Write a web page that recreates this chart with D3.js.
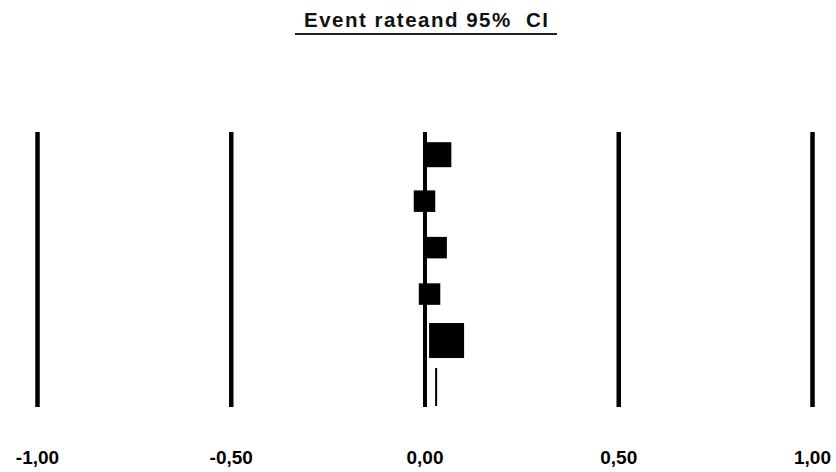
<!DOCTYPE html>
<head>
  <meta charset="utf-8">
  <title>Event rate and 95% CI</title>
  <style>
    body {margin: 0; background: #fff;}
    svg {font-family: "Liberation Sans", Arial, sans-serif;}
    .grid line {stroke: #000; stroke-width: 4.5;}
    .grid .zero line {stroke-width: 4;}
    .grid text {font-size: 19px; font-weight: bold; fill: #000;}
  </style>
</head>
<body>
  <svg width="836" height="472"></svg>
  <script src="https://cdn.jsdelivr.net/npm/d3@7"></script>
  <script>
    // study rows (top to bottom) and the summary row
    var rates = [0.037, 0.0, 0.03, 0.013, 0.057];
    var weights = [25, 21.5, 21.5, 21.5, 35];   // box size
    var summary = {est: 0.03, lo: 0.03, hi: 0.03};
    var tickValues = [-1, -0.5, 0, 0.5, 1];
    var tickLabels = ["-1,00", "-0,50", "0,00", "0,50", "1,00"];

    var svg = d3.select("svg");
    var plotTop = 132, plotBottom = 407;

    var x = d3.scaleLinear().domain([-1, 1]).range([37, 812]);
    var y = d3.scalePoint().domain(d3.range(rates.length + 1)).range([154.7, 387]);

    //title, underlined
    svg.append("text")
        .attr("x", 426)
        .attr("y", 27)
        .attr("text-anchor", "middle")
        .attr("font-size", 20.5)
        .attr("font-weight", "bold")
        .attr("fill", "#111")
        .attr("textLength", 244)
        .attr("lengthAdjust", "spacing")
        .style("white-space", "pre")
        .text("Event rateand 95%  CI");

    svg.append("line")
        .attr("x1", 295).attr("x2", 557)
        .attr("y1", 34).attr("y2", 34)
        .attr("stroke", "#222")
        .attr("stroke-width", 2);

    //vertical grid lines + tick labels
    var axis = d3.axisBottom(x)
        .tickValues(tickValues)
        .tickFormat(function(d, i) { return tickLabels[i]; })
        .tickSizeInner(-(plotBottom - plotTop))
        .tickSizeOuter(0)
        .tickPadding(44);

    var g = svg.append("g")
        .attr("class", "grid")
        .attr("transform", "translate(0," + plotBottom + ")")
        .call(axis);
    g.select(".domain").remove();
    g.selectAll(".tick").classed("zero", function(d) { return d === 0; });
    g.selectAll(".tick text").attr("font-family", null).attr("font-size", null);

    //study boxes
    svg.selectAll(".box")
        .data(rates)
      .enter().append("rect")
        .attr("class", "box")
        .attr("x", function(d, i) { return x(d) - weights[i] / 2; })
        .attr("y", function(d, i) { return y(i) - weights[i] / 2; })
        .attr("width", function(d, i) { return weights[i]; })
        .attr("height", function(d, i) { return weights[i]; })
        .attr("fill", "#000");

    //summary diamond (very narrow CI, so it shows as a line)
    var sy = y(rates.length), h = 19;
    svg.append("path")
        .attr("d", "M" + x(summary.lo) + "," + sy +
                   "L" + x(summary.est) + "," + (sy - h) +
                   "L" + x(summary.hi) + "," + sy +
                   "L" + x(summary.est) + "," + (sy + h) + "Z")
        .attr("fill", "#000")
        .attr("stroke", "#000")
        .attr("stroke-width", 2);
  </script>
</body>
